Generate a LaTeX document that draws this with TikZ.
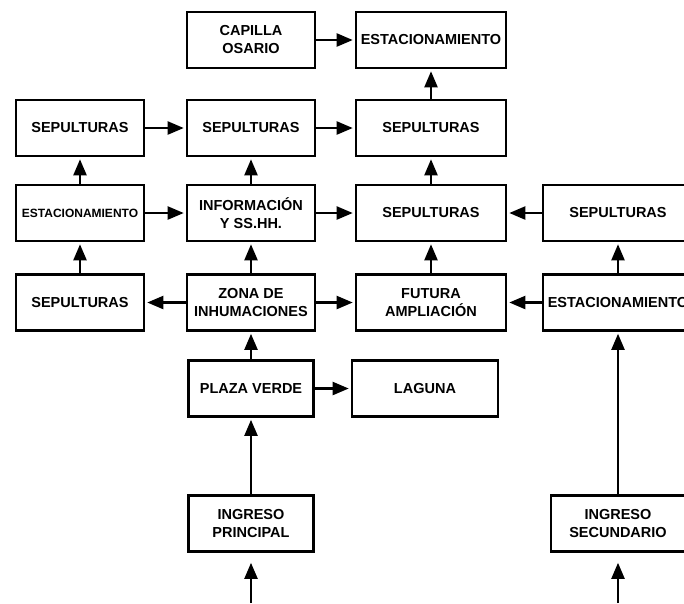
\documentclass[tikz,border=0pt]{standalone}
\usepackage{fontspec}
\setmainfont{Liberation Sans}
\usetikzlibrary{arrows.meta}

\begin{document}
\begin{tikzpicture}[x=1pt,y=-1pt,
    caja/.style={draw,line width=2.6pt,minimum height=56pt,inner sep=1pt,align=center,
      font=\fontsize{14.5}{18}\selectfont\bfseries},
    flecha/.style={-{Triangle[length=16pt,width=13pt]},line width=2.2pt,shorten >=2pt}]
  \path[use as bounding box,clip] (0,0) rectangle (684,603);

  % Fila 1
  \node[caja,minimum width=128pt] (cap) at (251,40) {CAPILLA\\OSARIO};
  \node[caja,minimum width=150pt] (estA) at (431,40) {ESTACIONAMIENTO};

  % Fila 2
  \node[caja,minimum width=128pt] (sepA) at (80,128) {SEPULTURAS};
  \node[caja,minimum width=128pt] (sepB) at (251,128) {SEPULTURAS};
  \node[caja,minimum width=150pt] (sepC) at (431,128) {SEPULTURAS};

  % Fila 3
  \node[caja,minimum width=128pt,font=\fontsize{12}{14}\selectfont\bfseries] (estL) at (80,213) {ESTACIONAMIENTO};
  \node[caja,minimum width=128pt] (info) at (251,213) {INFORMACIÓN\\Y SS.HH.};
  \node[caja,minimum width=150pt] (sepD) at (431,213) {SEPULTURAS};
  \node[caja,minimum width=150pt] (sepE) at (618,213) {SEPULTURAS};

  % Fila 4
  \node[caja,minimum width=128pt] (sepL) at (80,302.5) {SEPULTURAS};
  \node[caja,minimum width=128pt] (zona) at (251,302.5) {ZONA DE\\INHUMACIONES};
  \node[caja,minimum width=150pt] (fut) at (431,302.5) {FUTURA\\AMPLIACIÓN};
  \node[caja,minimum width=150pt] (estR) at (618,302.5) {ESTACIONAMIENTO};

  % Plaza y laguna
  \node[caja,minimum width=125pt] (plaza) at (251,388.5) {PLAZA VERDE};
  \node[caja,minimum width=146pt] (lag) at (425,388.5) {LAGUNA};

  % Ingresos
  \node[caja,minimum width=125pt] (ingP) at (251,523.5) {INGRESO\\PRINCIPAL};
  \node[caja,minimum width=134pt] (ingS) at (618,523.5) {INGRESO\\SECUNDARIO};
  \coordinate (bajoP) at (251,603);
  \coordinate (bajoS) at (618,603);

  % Flechas horizontales
  \draw[flecha] (cap) -- (estA);
  \draw[flecha] (sepA) -- (sepB);
  \draw[flecha] (sepB) -- (sepC);
  \draw[flecha] (estL) -- (info);
  \draw[flecha] (info) -- (sepD);
  \draw[flecha] (sepE) -- (sepD);
  \draw[flecha] (zona) -- (sepL);
  \draw[flecha] (zona) -- (fut);
  \draw[flecha] (estR) -- (fut);
  \draw[flecha] (plaza) -- (lag);

  % Flechas verticales
  \draw[flecha] (sepC) -- (estA);
  \draw[flecha] (estL) -- (sepA);
  \draw[flecha] (info) -- (sepB);
  \draw[flecha] (sepD) -- (sepC);
  \draw[flecha] (sepL) -- (estL);
  \draw[flecha] (zona) -- (info);
  \draw[flecha] (fut) -- (sepD);
  \draw[flecha] (estR) -- (sepE);
  \draw[flecha] (plaza) -- (zona);
  \draw[flecha] (ingP) -- (plaza);
  \draw[flecha] (ingS) -- (estR);
  \draw[flecha,shorten >=10pt] (bajoP) -- (ingP);
  \draw[flecha,shorten >=10pt] (bajoS) -- (ingS);
\end{tikzpicture}
\end{document}
